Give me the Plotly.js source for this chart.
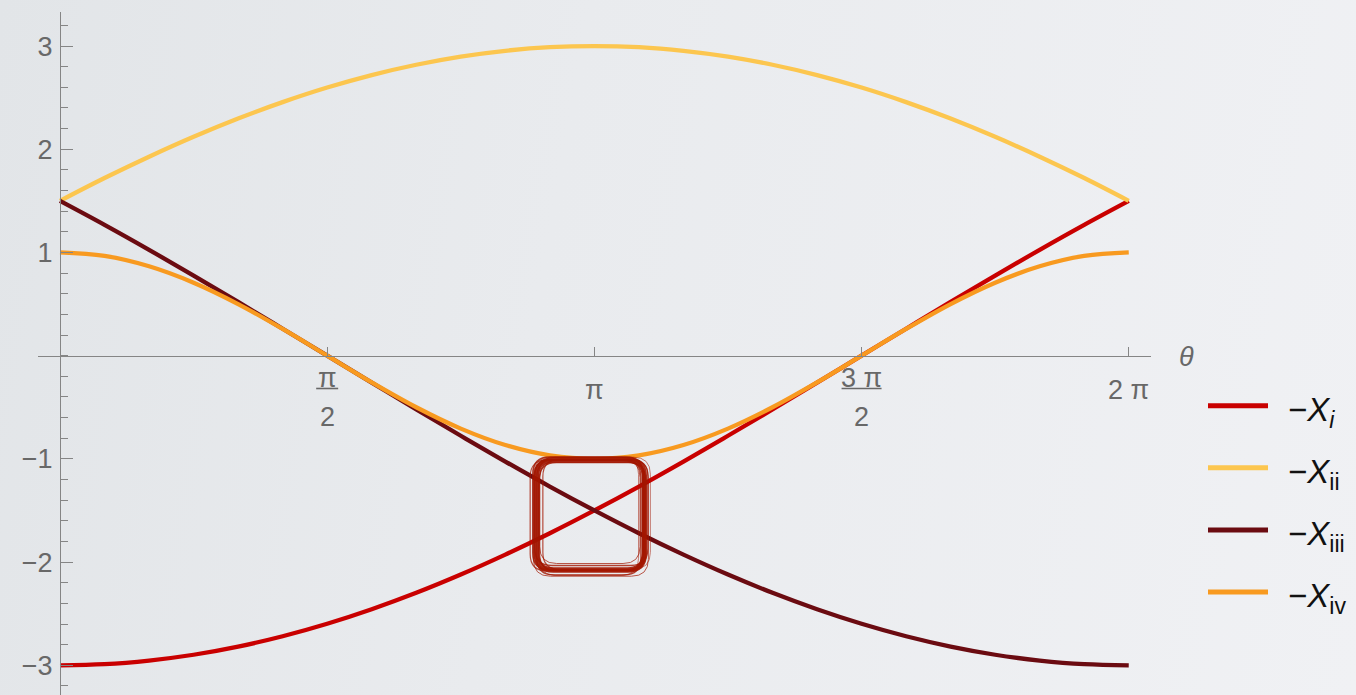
<!DOCTYPE html>
<html>
<head>
<meta charset="utf-8">
<script src="https://cdn.plot.ly/plotly-3.0.1.min.js"></script>
<style>
  html, body { margin: 0; padding: 0; width: 1356px; height: 695px; overflow: hidden;
    background: linear-gradient(100deg, #e2e5e8 0%, #e9ebee 40%, #f0f1f4 100%); }
  #chart { width: 1356px; height: 695px; }
</style>
</head>
<body>
<div id="chart"></div>
<script>
// θ samples, 0 … 2π in steps of π/12
const theta = [0, 0.2618, 0.5236, 0.7854, 1.0472, 1.3090, 1.5708, 1.8326, 2.0944, 2.3562, 2.6180, 2.8798,
  3.1416, 3.4034, 3.6652, 3.9270, 4.1888, 4.4506, 4.7124, 4.9742, 5.2360, 5.4978, 5.7596, 6.0214, 6.2832];

// −X_i
const negXi = [-3, -2.989, -2.954, -2.898, -2.819, -2.719, -2.598, -2.457, -2.298, -2.121, -1.928, -1.721,
  -1.5, -1.268, -1.026, -0.776, -0.521, -0.261, 0, 0.261, 0.521, 0.776, 1.026, 1.268, 1.5];
// −X_ii
const negXii = [1.5, 1.721, 1.928, 2.121, 2.298, 2.457, 2.598, 2.719, 2.819, 2.898, 2.954, 2.989,
  3, 2.989, 2.954, 2.898, 2.819, 2.719, 2.598, 2.457, 2.298, 2.121, 1.928, 1.721, 1.5];
// −X_iii
const negXiii = [1.5, 1.268, 1.026, 0.776, 0.521, 0.261, 0, -0.261, -0.521, -0.776, -1.026, -1.268,
  -1.5, -1.721, -1.928, -2.121, -2.298, -2.457, -2.598, -2.719, -2.819, -2.898, -2.954, -2.989, -3];
// −X_iv
const negXiv = [1, 0.966, 0.866, 0.707, 0.5, 0.259, 0, -0.259, -0.5, -0.707, -0.866, -0.966,
  -1, -0.966, -0.866, -0.707, -0.5, -0.259, 0, 0.259, 0.5, 0.707, 0.866, 0.966, 1];

const seriesNames = [
  '−<i>X</i><sub><i>i</i></sub>',
  '−<i>X</i><sub>ii</sub>',
  '−<i>X</i><sub>iii</sub>',
  '−<i>X</i><sub>iv</sub>'
];
const seriesValues = [negXi, negXii, negXiii, negXiv];
const seriesColors = ['#c90000', '#fcc64f', '#6b0b11', '#f89a20'];

// axis ticks
const xTickVals = [1.5708, 3.1416, 4.7124, 6.2832];
const xTickNumerators = ['π', 'π', '3 π', '2 π'];
const xTickDenominators = ['2', '', '2', ''];
const yTickVals = [-3, -2, -1, 1, 2, 3];
const yTickText = ['−3', '−2', '−1', '1', '2', '3'];
const xAxisLabel = 'θ';

// highlighted crossing region
const markCenter = [3.118, -1.544];

// ---- geometry of the page ----
const W = 1356, H = 695;
const M = { l: 38, r: 205, t: 12, b: 0 };
const X0 = -0.1293, X1 = 6.414, Y0 = -3.288, Y1 = 3.330;
const plotW = W - M.l - M.r, plotH = H - M.t - M.b;
const pxPerX = plotW / (X1 - X0), pxPerY = plotH / (Y1 - Y0);
const xp = px => (px - M.l) / plotW;          // page px -> paper x
const yp = py => (H - M.b - py) / plotH;      // page px -> paper y

const FONT = '"Liberation Sans", Arial, Helvetica, sans-serif';
const LABEL_GRAY = '#686868';
const AXIS_GRAY = '#858585';
const TICK_SIZE = 27;

const traces = seriesValues.map((vals, i) => ({
  x: theta,
  y: vals,
  type: 'scatter',
  mode: 'lines',
  name: seriesNames[i],
  line: { color: seriesColors[i], width: 4.3, shape: 'spline', smoothing: 1 },
  hoverinfo: 'skip'
}));

const annotations = [];
const shapes = [];

// fraction-style θ tick labels
xTickVals.forEach((v, i) => {
  const hasDen = xTickDenominators[i] !== '';
  annotations.push({
    x: v, xref: 'x', y: yp(hasDen ? 378 : 390), yref: 'paper',
    text: xTickNumerators[i], showarrow: false, xanchor: 'center', yanchor: 'middle',
    font: { family: FONT, size: TICK_SIZE, color: LABEL_GRAY }
  });
  if (hasDen) {
    annotations.push({
      x: v, xref: 'x', y: yp(417), yref: 'paper',
      text: xTickDenominators[i], showarrow: false, xanchor: 'center', yanchor: 'middle',
      font: { family: FONT, size: TICK_SIZE, color: LABEL_GRAY }
    });
    const half = xTickNumerators[i].length > 1 ? 20 : 11;
    shapes.push({
      type: 'line', xref: 'x', xsizemode: 'pixel', xanchor: v, x0: -half, x1: half,
      yref: 'paper', y0: yp(388.5), y1: yp(388.5),
      line: { color: LABEL_GRAY, width: 1.6 }
    });
  }
});

// axis name
annotations.push({
  x: xp(1186), xref: 'paper', y: yp(357), yref: 'paper', text: '<i>' + xAxisLabel + '</i>',
  showarrow: false, xanchor: 'center', yanchor: 'middle',
  font: { family: FONT, size: TICK_SIZE, color: LABEL_GRAY }
});

// legend
const legendRows = [405.7, 467.7, 530, 592];
seriesNames.forEach((name, i) => {
  shapes.push({
    type: 'line', xref: 'paper', yref: 'paper',
    x0: xp(1208), x1: xp(1268), y0: yp(legendRows[i]), y1: yp(legendRows[i]),
    line: { color: seriesColors[i], width: 5 }
  });
  annotations.push({
    x: xp(1286), xref: 'paper', y: yp(legendRows[i] + 6), yref: 'paper',
    text: name, showarrow: false, xanchor: 'left', yanchor: 'middle',
    font: { family: FONT, size: 33, color: '#111111' }
  });
});

// brush-like rounded box round the crossing
function roundedBox(cx, cy, hw, hh, rx, ry) {
  const l = cx - hw, r = cx + hw, t = cy + hh, b = cy - hh;
  return `M${l + rx},${t} L${r - rx},${t} Q${r},${t} ${r},${t - ry} L${r},${b + ry} Q${r},${b} ${r - rx},${b} ` +
         `L${l + rx},${b} Q${l},${b} ${l},${b + ry} L${l},${t - ry} Q${l},${t} ${l + rx},${t} Z`;
}
// [dx, dy, dw, dh, width, opacity] in pixels
const strokes = [
  [0, 0, 0, 0, 5.5, 0.9],
  [-2.5, 1.5, 1.0, 1.5, 1.6, 0.85],
  [2.0, -1.5, -1.0, -1.0, 1.6, 0.85],
  [1.0, 2.5, 2.5, -2.0, 1.3, 0.8],
  [-1.5, -2.5, -2.0, 2.5, 1.3, 0.8],
  [3.0, 0.5, -3.5, 0.0, 1.2, 0.75],
  [-3.2, -0.5, 3.0, 0.5, 1.2, 0.75],
  [0.5, -3.0, 3.5, 3.2, 1.0, 0.7],
  [-0.5, 3.0, -3.8, -3.5, 1.0, 0.7],
  [1.8, 1.8, 4.2, 1.0, 0.9, 0.6],
  [-1.8, -1.2, -4.0, 4.0, 0.9, 0.6]
];
strokes.forEach(([dx, dy, dw, dh, w, op]) => {
  shapes.push({
    type: 'path', xref: 'x', yref: 'y',
    path: roundedBox(markCenter[0] + dx / pxPerX, markCenter[1] + dy / pxPerY,
                     (54 + dw) / pxPerX, (55 + dh) / pxPerY, 17 / pxPerX, 17 / pxPerY),
    line: { color: '#a31600', width: w }, opacity: op, layer: 'above'
  });
});

const layout = {
  width: W, height: H,
  margin: { l: M.l, r: M.r, t: M.t, b: M.b, pad: 0 },
  paper_bgcolor: 'rgba(0,0,0,0)',
  plot_bgcolor: 'rgba(0,0,0,0)',
  showlegend: false,
  xaxis: {
    range: [X0, X1], anchor: 'free', position: (0 - Y0) / (Y1 - Y0),
    showgrid: false, zeroline: false, showline: true, linecolor: AXIS_GRAY, linewidth: 1,
    tickmode: 'array', tickvals: xTickVals, showticklabels: false,
    ticks: 'inside', ticklen: 9, tickwidth: 1, tickcolor: AXIS_GRAY,
    automargin: false, fixedrange: true
  },
  yaxis: {
    range: [Y0, Y1], anchor: 'free', position: (0 - X0) / (X1 - X0),
    showgrid: false, zeroline: false, showline: true, linecolor: AXIS_GRAY, linewidth: 1,
    tickmode: 'array', tickvals: yTickVals, ticktext: yTickText,
    ticks: 'inside', ticklen: 12, tickwidth: 1, tickcolor: AXIS_GRAY,
    minor: { tickmode: 'linear', tick0: 0, dtick: 0.2, ticks: 'inside', ticklen: 7, tickwidth: 1, tickcolor: AXIS_GRAY },
    tickfont: { family: FONT, size: TICK_SIZE, color: LABEL_GRAY },
    ticklabelstandoff: 2,
    automargin: false, fixedrange: true
  },
  annotations: annotations,
  shapes: shapes
};

Plotly.newPlot('chart', traces, layout, { displayModeBar: false, staticPlot: true });
</script>
</body>
</html>
